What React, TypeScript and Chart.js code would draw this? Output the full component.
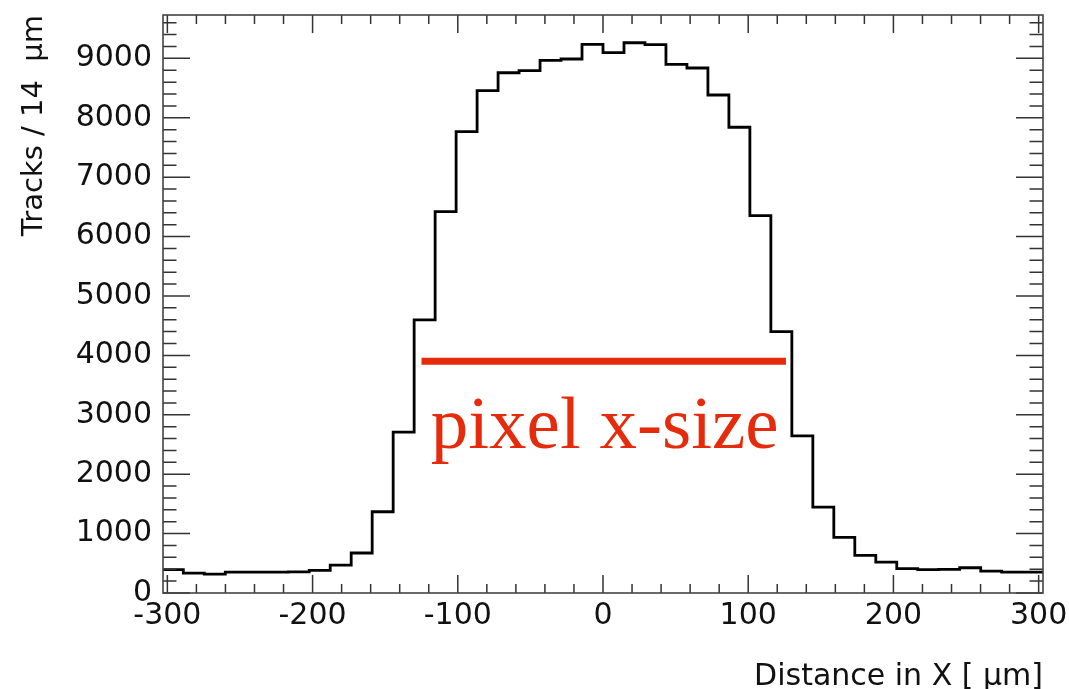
import React, { useEffect, useRef } from "react";
import { Chart, registerables } from "chart.js";

Chart.register(...registerables);

// Histogram: bin width and first bin edge (µm)
const BIN_WIDTH = 14.45;
const FIRST_EDGE = -303.45;
// Tracks per bin (left to right)
const counts = [
  395, 336, 318, 352, 352, 352, 355, 380, 470, 673,
  1368, 2709, 4598, 6420, 7766, 8456, 8758, 8792, 8967, 8989,
  9236, 9095, 9263, 9230, 8900, 8838, 8383, 7840, 6353, 4401,
  2646, 1447, 935, 635, 521, 412, 395, 397, 425, 368,
  350, 350,
];

// Axis tick labels
const xTickValues = [-300, -200, -100, 0, 100, 200, 300];
const yTickValues = [0, 1000, 2000, 3000, 4000, 5000, 6000, 7000, 8000, 9000];

// Pixel-size marker (red line) and its label
const markerX = [-125, 126];
const markerY = [3900, 3900];
const markerLabel = "pixel x-size";
const markerLabelX = -118.6;
const markerLabelY = 2444;

const X_MIN = -303;
const X_MAX = 303;
const Y_MIN = 0;
const Y_MAX = 9730;

const RED = "#e52b0c";

export default function App() {
  const ref = useRef<HTMLCanvasElement | null>(null);

  useEffect(() => {
    if (!ref.current) return;

    const histPoints = counts.map((c, i) => ({ x: FIRST_EDGE + i * BIN_WIDTH, y: c }));
    histPoints.push({ x: FIRST_EDGE + counts.length * BIN_WIDTH, y: counts[counts.length - 1] });

    const framePlugin = {
      id: "rootFrame",
      afterDatasetsDraw(chart: any) {
        const { ctx, chartArea } = chart;
        const xs = chart.scales.x;
        const ys = chart.scales.y;
        const { left, right, top, bottom } = chartArea;
        ctx.save();
        // tick marks (inside, all four sides)
        ctx.strokeStyle = "#333";
        ctx.lineWidth = 1.5;
        ctx.beginPath();
        for (let v = -300; v <= 300; v += 20) {
          const px = xs.getPixelForValue(v);
          const len = v % 100 === 0 ? 18 : 9;
          ctx.moveTo(px, bottom);
          ctx.lineTo(px, bottom - len);
          ctx.moveTo(px, top);
          ctx.lineTo(px, top + len);
        }
        for (let v = 0; v <= Y_MAX; v += 200) {
          const py = ys.getPixelForValue(v);
          const len = v % 1000 === 0 ? 27 : 13.5;
          ctx.moveTo(left, py);
          ctx.lineTo(left + len, py);
          ctx.moveTo(right, py);
          ctx.lineTo(right - len, py);
        }
        ctx.stroke();
        // frame
        ctx.strokeStyle = "#444";
        ctx.lineWidth = 1.6;
        ctx.strokeRect(left, top, right - left, bottom - top);
        // label
        ctx.fillStyle = RED;
        ctx.font = '75px "Liberation Serif", "Times New Roman", serif';
        ctx.textBaseline = "alphabetic";
        ctx.textAlign = "left";
        ctx.fillText(markerLabel, xs.getPixelForValue(markerLabelX), ys.getPixelForValue(markerLabelY));
        ctx.restore();
      },
    };

    const tickFont = { family: "'DejaVu Sans', sans-serif", size: 30 };

    const chart = new Chart(ref.current, {
      type: "line",
      data: {
        datasets: [
          {
            data: histPoints,
            borderColor: "#000",
            borderWidth: 2.8,
            pointRadius: 0,
            stepped: "before",
            fill: false,
            clip: 0,
          },
          {
            data: markerX.map((x, i) => ({ x, y: markerY[i] })),
            borderColor: RED,
            borderWidth: 7,
            pointRadius: 0,
            fill: false,
            borderCapStyle: "butt",
          },
        ],
      },
      options: {
        animation: false,
        responsive: false,
        events: [],
        layout: { padding: { left: 0, top: 15, right: 26, bottom: 0 } },
        plugins: { legend: { display: false }, tooltip: { enabled: false } },
        scales: {
          x: {
            type: "linear",
            min: X_MIN,
            max: X_MAX,
            grid: { display: false, drawTicks: false },
            border: { display: false },
            ticks: {
              font: tickFont,
              color: "#111",
              padding: 5,
              maxRotation: 0,
              autoSkip: false,
              includeBounds: false,
              callback: (v: any) => String(v),
            },
            afterBuildTicks: (scale: any) => {
              scale.ticks = xTickValues.map((v) => ({ value: v }));
            },
            afterFit: (scale: any) => {
              scale.height = 96;
              scale.paddingLeft = 0;
              scale.paddingRight = 0;
            },
            title: {
              display: true,
              text: "Distance in X [ µm]",
              align: "end",
              color: "#111",
              font: { family: "'DejaVu Sans', sans-serif", size: 30, lineHeight: 0.8 },
              padding: { top: 0, bottom: 0 },
            },
          },
          y: {
            type: "linear",
            min: Y_MIN,
            max: Y_MAX,
            grid: { display: false, drawTicks: false },
            border: { display: false },
            ticks: {
              font: tickFont,
              color: "#111",
              padding: 11,
              autoSkip: false,
              includeBounds: false,
              callback: (v: any) => String(v),
            },
            afterBuildTicks: (scale: any) => {
              scale.ticks = yTickValues.map((v) => ({ value: v }));
            },
            afterFit: (scale: any) => {
              scale.width = 163;
              scale.paddingTop = 0;
              scale.paddingBottom = 0;
            },
            title: {
              display: true,
              text: "Tracks / 14  µm",
              align: "end",
              color: "#111",
              font: { family: "'DejaVu Sans', sans-serif", size: 29, lineHeight: 1.2 },
              padding: { top: 17, bottom: 0 },
            },
          },
        },
      },
      plugins: [framePlugin],
    });

    return () => chart.destroy();
  }, []);

  return (
    <div style={{ position: "fixed", left: 0, top: 0, width: 1069, height: 689, background: "#fff" }}>
      <canvas ref={ref} width={1069} height={689} style={{ display: "block" }} />
    </div>
  );
}
